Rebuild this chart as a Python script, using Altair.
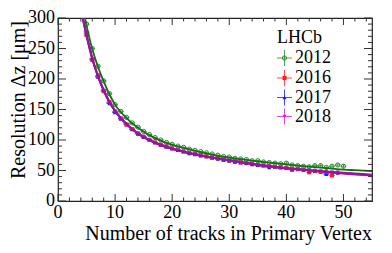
import altair as alt
import pandas as pd

# ---------------- data ----------------
years = ["2012", "2016", "2017", "2018"]

N_2012 = list(range(5, 51))
v_2012 = [290, 250, 221, 197, 176, 158, 147, 137, 128, 121,
          114, 109, 104, 100, 96, 93, 90, 88, 85, 83,
          81, 79, 77, 75, 73, 72, 70, 69, 68, 66,
          66, 64, 63, 62, 61, 62, 59, 58, 57, 56,
          58, 58, 55, 57, 59, 57]

N_2016 = list(range(5, 49))
v_2016 = [272, 231, 206, 180, 162, 146, 135, 125, 118, 111,
          105, 100, 96, 92, 89, 86, 84, 81, 79, 77,
          75, 73, 71, 70, 68, 66, 65, 63, 62, 61,
          59, 58, 57, 56, 55, 54, 51, 52, 51, 47,
          49, 48, 45, 42]

N_2017 = list(range(5, 50))
v_2017 = [277, 233, 203, 182, 160, 145, 135, 127, 117, 110,
          105, 101, 96, 92, 89, 86, 83, 81, 78, 76,
          74, 73, 71, 69, 67, 66, 64, 63, 62, 60,
          59, 58, 55, 56, 55, 54, 53, 52, 51, 50,
          49, 48, 44, 47, 46]

N_2018 = list(range(5, 50))
v_2018 = [275, 233, 204, 181, 161, 147, 136, 126, 118, 111,
          106, 101, 96, 93, 90, 86, 84, 81, 79, 77,
          75, 73, 71, 69, 68, 66, 65, 63, 62, 61,
          59, 58, 57, 56, 55, 54, 53, 52, 51, 50,
          50, 49, 48, 47, 47]

# vertical error per N (N = 5 .. 50)
err_N = list(range(5, 51))
err_y = [4, 3, 3, 2.5, 2.5, 2, 2, 2, 1.5, 1.5,
         1.5, 1.5, 1.5, 1.5, 1.5, 1.5, 1.5, 1.5, 1.5, 1.5,
         1.5, 1.5, 1.5, 1.5, 1.5, 1.5, 1.5, 2, 2, 2,
         2, 2, 2, 2, 2, 2.5, 2.5, 2.5, 2.5, 3,
         3, 3, 3, 3, 3, 3.5]

# fitted curves
fit_N = [4, 5, 6, 7, 8, 9, 10, 12, 14, 16, 18, 20, 22, 25, 28, 30, 32, 35, 38, 40, 42, 45, 48, 50, 52, 55]
fit_2012 = [335, 288, 249, 220, 196, 175, 158, 136, 120, 108, 99, 92, 87, 80, 74, 71, 68.5, 65, 62, 60, 58, 55.5, 53, 51.5, 50.5, 49]
fit_2016 = [316, 272, 234, 205, 181, 162, 147, 125.5, 110.5, 99.5, 91.5, 85.5, 80.5, 74.5, 69.5, 66.5, 63.5, 59, 55.3, 53.2, 51.5, 48.8, 46.3, 44.8, 43.3, 41.5]
fit_2017 = [314, 271, 233, 204, 181, 162, 147, 126, 110.5, 99.5, 91.5, 85.5, 80.5, 74.5, 69.5, 66.5, 63.5, 59, 55.5, 53.5, 52, 49.5, 47, 45.5, 44.3, 42.5]
fit_2018 = [315, 272, 234, 205, 182, 163, 148, 126, 111, 100, 92, 86, 81, 75, 70, 67, 64, 59.5, 56, 54, 52.5, 50, 47.5, 46, 44.8, 43]

x_major = [0, 10, 20, 30, 40, 50]
x_labels = ["0", "10", "20", "30", "40", "50"]
x_minor = [t for t in range(2, 55, 2) if t % 10 != 0]
y_major = [0, 50, 100, 150, 200, 250, 300]
y_labels = ["0", "50", "100", "150", "200", "250", "300"]
y_minor = [t for t in range(10, 300, 10) if t % 50 != 0]

x_title = "Number of tracks in Primary Vertex"
y_title = "Resolution Δz [μm]"
legend_head = "LHCb"

# ---------------- styles ----------------
W, H = 314, 183
FONT = "Liberation Serif"
pt_color = {"2012": "#2a8a2a", "2016": "#ff1a1a", "2017": "#1a1aff", "2018": "#cc22cc"}
fit_color = {"2012": "#137013", "2016": "#ff3030", "2017": "#2a2aee", "2018": "#9a149a"}
shape = {"2012": "circle", "2016": "square", "2017": "triangle-up", "2018": "triangle-down"}

xs = alt.Scale(domain=[0, 55], nice=False, zero=False)
ys = alt.Scale(domain=[0, 300], nice=False, zero=False)


def X(f):
    return alt.X(f, scale=xs, axis=None)


def Y(f):
    return alt.Y(f, scale=ys, axis=None)


series = {"2012": (N_2012, v_2012), "2016": (N_2016, v_2016),
          "2017": (N_2017, v_2017), "2018": (N_2018, v_2018)}
fits = {"2012": fit_2012, "2016": fit_2016, "2017": fit_2017, "2018": fit_2018}
err_map = dict(zip(err_N, err_y))

layers = []

for yr in years:
    Ns, vs = series[yr]
    df = pd.DataFrame({"N": Ns, "v": vs, "e": [err_map[n] for n in Ns]})
    c = alt.Chart(df)
    xe = c.transform_calculate(a="datum.N - 0.5", b="datum.N + 0.5").mark_rule(
        color=pt_color[yr], strokeWidth=1, clip=True, opacity=0.8).encode(
        x=X("a:Q"), x2="b:Q", y=Y("v:Q"))
    ye = c.transform_calculate(lo="datum.v - datum.e", hi="datum.v + datum.e").mark_rule(
        color=pt_color[yr], strokeWidth=1, clip=True, opacity=0.8).encode(
        x=X("N:Q"), y=Y("lo:Q"), y2="hi:Q")
    if yr == "2012":
        pts = c.mark_point(shape="circle", filled=False, color=pt_color[yr], size=18,
                           strokeWidth=1, clip=True, opacity=1)
    else:
        pts = c.mark_point(shape=shape[yr], filled=True, color=pt_color[yr], size=16,
                           clip=True, opacity=1)
    pts = pts.encode(x=X("N:Q"), y=Y("v:Q"))
    layers += [xe, ye, pts]

for yr in years:
    df = pd.DataFrame({"N": fit_N, "v": fits[yr]})
    ln = alt.Chart(df).mark_line(color=fit_color[yr], strokeWidth=1.8 if yr != "2018" else 2.2,
                                 interpolate="monotone", clip=True).encode(
        x=X("N:Q"), y=Y("v:Q"))
    layers.append(ln)


# inside ticks (ROOT style) on all four sides
def xticks(vals, L):
    d = pd.DataFrame({"t": vals})
    b = alt.Chart(d).mark_rule(color="#333", strokeWidth=1).encode(
        x=X("t:Q"), y=alt.value(H), y2=alt.value(H - L))
    t = alt.Chart(d).mark_rule(color="#333", strokeWidth=1).encode(
        x=X("t:Q"), y=alt.value(0), y2=alt.value(L))
    return [b, t]


def yticks(vals, L):
    d = pd.DataFrame({"t": vals})
    l = alt.Chart(d).mark_rule(color="#333", strokeWidth=1).encode(
        y=Y("t:Q"), x=alt.value(0), x2=alt.value(L))
    r = alt.Chart(d).mark_rule(color="#333", strokeWidth=1).encode(
        y=Y("t:Q"), x=alt.value(W), x2=alt.value(W - L))
    return [l, r]


layers += xticks(x_major, 7) + xticks(x_minor, 3.5) + yticks(y_major, 8) + yticks(y_minor, 4)

# tick labels (placed through the scales)
layers.append(alt.Chart(pd.DataFrame({"t": x_major, "lab": x_labels})).mark_text(
    font=FONT, fontSize=18, align="center", baseline="middle", color="black").encode(
    x=X("t:Q"), y=alt.value(H + 12), text="lab:N"))
layers.append(alt.Chart(pd.DataFrame({"t": y_major, "lab": y_labels})).mark_text(
    font=FONT, fontSize=18, align="right", baseline="middle", color="black").encode(
    y=Y("t:Q"), x=alt.value(-3), text="lab:N"))

one = pd.DataFrame({"a": [0]})
# axis titles
layers.append(alt.Chart(one).mark_text(text=x_title, font=FONT, fontSize=20, align="right",
                                       baseline="alphabetic", color="black").encode(
    x=alt.value(W), y=alt.value(H + 39)))
layers.append(alt.Chart(one).mark_text(text=y_title, font=FONT, fontSize=20, align="center",
                                       baseline="middle", angle=270, color="black").encode(
    x=alt.value(-39), y=alt.value(82)))

# legend
layers.append(alt.Chart(one).mark_text(text=legend_head, font=FONT, fontSize=18, align="left",
                                       baseline="middle", color="black").encode(
    x=alt.value(219), y=alt.value(20)))
leg_y = [40, 60, 79.5, 98.5]
for yr, ly in zip(years, leg_y):
    col = pt_color[yr]
    layers.append(alt.Chart(one).mark_rule(color=col, strokeWidth=1, opacity=0.8).encode(
        x=alt.value(219), x2=alt.value(234), y=alt.value(ly)))
    layers.append(alt.Chart(one).mark_rule(color=col, strokeWidth=1, opacity=0.8).encode(
        x=alt.value(226.5), y=alt.value(ly - 8), y2=alt.value(ly + 8)))
    if yr == "2012":
        m = alt.Chart(one).mark_point(shape="circle", filled=False, color=col, size=18, strokeWidth=1, opacity=1)
    else:
        m = alt.Chart(one).mark_point(shape=shape[yr], filled=True, color=col, size=16, opacity=1)
    layers.append(m.encode(x=alt.value(226.5), y=alt.value(ly)))
    layers.append(alt.Chart(one).mark_text(text=yr, font=FONT, fontSize=18, align="left",
                                           baseline="middle", color="black").encode(
        x=alt.value(237), y=alt.value(ly)))

chart = alt.layer(*layers).properties(
    width=W, height=H,
    autosize=alt.AutoSizeParams(type="none"),
    padding={"left": 50, "top": 10, "right": 12, "bottom": 44},
    background="white",
).configure_view(stroke="#222", strokeWidth=1.2)

chart.save("out.html", embed_options={"renderer": "svg", "actions": False})
